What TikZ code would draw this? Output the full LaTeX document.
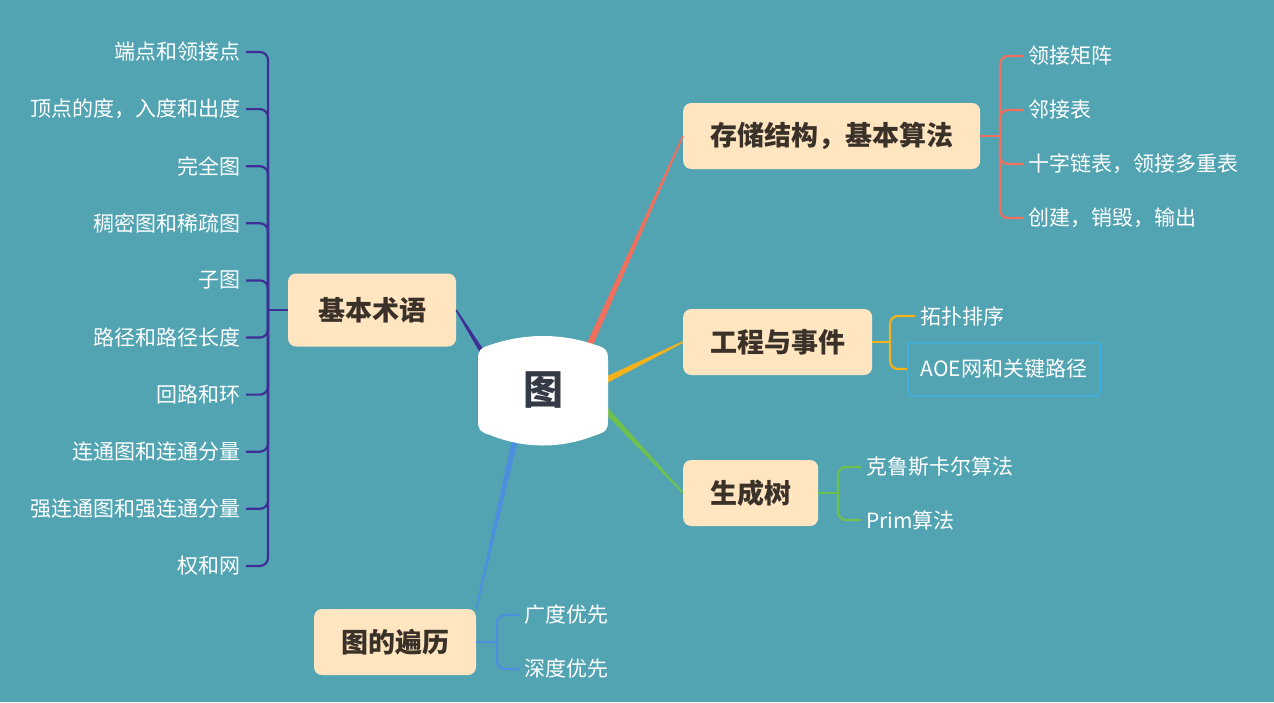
\documentclass[tikz,border=0pt]{standalone}
\usepackage{fontspec}
\setmainfont{Noto Sans CJK SC}
\usetikzlibrary{calc}
\definecolor{bgc}{RGB}{82,164,179}
\definecolor{boxc}{RGB}{255,229,192}
\definecolor{topicc}{RGB}{58,49,41}
\definecolor{rootc}{RGB}{52,58,70}
\definecolor{colB}{RGB}{62,46,150}
\definecolor{colS}{RGB}{240,112,93}
\definecolor{colP}{RGB}{245,178,27}
\definecolor{colT}{RGB}{109,193,76}
\definecolor{colR}{RGB}{75,143,222}
\definecolor{aoec}{RGB}{63,176,224}
\begin{document}
\begin{tikzpicture}[x=1pt,y=-1pt,
  topic/.style={fill=boxc,rounded corners=8pt,inner xsep=27pt,inner ysep=4pt,
    minimum height=66pt,text=topicc,font=\fontsize{27}{31}\selectfont\bfseries},
  leaf/.style={text=white,inner xsep=5pt,inner ysep=3pt,font=\fontsize{21}{25}\selectfont},
  brace/.style={line width=2.2pt,rounded corners=8pt}]
  \useasboundingbox (0,0) rectangle (1274,702);
  \fill[bgc] (0,0) rectangle (1274,702);

  % topics
  \node[topic,inner xsep=30pt,minimum height=73pt] (basic) at (372,310) {基本术语};
  \node[topic,anchor=west] (store) at (683,136) {存储结构，基本算法};
  \node[topic,anchor=west] (proj) at (683,342) {工程与事件};
  \node[topic,anchor=west] (tree) at (683,493) {生成树};
  \node[topic] (trav) at (395,642) {图的遍历};

  % hubs
  \coordinate (hubB) at (268,310);
  \coordinate (hubS) at (1000,136);
  \coordinate (hubP) at (890,342);
  \coordinate (hubT) at (838,493);
  \coordinate (hubR) at (497,642);

  % leaves
  \foreach \t [count=\i] in {端点和领接点,顶点的度，入度和出度,完全图,稠密图和稀疏图,子图,
      路径和路径长度,回路和环,连通图和连通分量,强连通图和强连通分量,权和网}
    \node[leaf,anchor=east] (b\i) at (246,{52+57.1*(\i-1)}) {\t};
  \foreach \t [count=\i] in {领接矩阵,邻接表,十字链表，领接多重表,创建，销毁，输出}
    \node[leaf,anchor=west] (s\i) at (1023,{56+54*(\i-1)}) {\t};
  \node[leaf,anchor=west] (p1) at (915,316) {拓扑排序};
  \node[leaf,anchor=west,draw=aoec,line width=1.5pt,rounded corners=3pt,
    inner xsep=13pt,minimum height=53pt] (p2) at (907,369) {AOE网和关键路径};
  \node[leaf,anchor=west] (t1) at (861,467) {克鲁斯卡尔算法};
  \node[leaf,anchor=west] (t2) at (861,520) {Prim算法};
  \node[leaf,anchor=west] (r1) at (519,615) {广度优先};
  \node[leaf,anchor=west] (r2) at (519,669) {深度优先};

  % braces
  \foreach \i in {1,...,10}
    \draw[brace,colB] (hubB) |- (b\i.east);
  \draw[brace,colB] (basic.west) -- (hubB);
  \foreach \i in {1,...,4}
    \draw[brace,colS] (hubS) |- (s\i.west);
  \draw[brace,colS] (store.east) -- (hubS);
  \foreach \i in {1,2} {
    \draw[brace,colP] (hubP) |- (p\i.west);
    \draw[brace,colT] (hubT) |- (t\i.west);
    \draw[brace,colR] (hubR) |- (r\i.west);
  }
  \draw[brace,colP] (proj.east) -- (hubP);
  \draw[brace,colT] (tree.east) -- (hubT);
  \draw[brace,colR] (trav.east) -- (hubR);

  % main branches
  \coordinate (gB) at (486,358);
  \coordinate (gS) at (590,344);
  \coordinate (gP) at (604,381);
  \coordinate (gT) at (604,408);
  \coordinate (gR) at (515,440);
  \foreach \s/\e/\c/\w in {gB/basic.east/colB/2.5,gS/store.west/colS/3.2,
      gP/proj.west/colP/3.2,gT/tree.west/colT/3,gR/trav.north east/colR/3}
    \fill[\c] ($(\s)!\w pt!90:(\e)$) -- ($(\e)!0.8pt!-90:(\s)$)
      -- ($(\e)!0.8pt!90:(\s)$) -- ($(\s)!\w pt!-90:(\e)$) -- cycle;

  % root
  \fill[white] (478,360) .. controls (478,350) and (480,348) .. (490,345)
    .. controls (525,333) and (561,333) .. (596,345)
    .. controls (606,348) and (608,350) .. (608,360) -- (608,420)
    .. controls (608,430) and (606,432) .. (596,435)
    .. controls (561,449) and (525,449) .. (490,435)
    .. controls (480,432) and (478,430) .. (478,420) -- cycle;
  \node[text=rootc,font=\fontsize{40}{44}\selectfont\bfseries] (root) at (543,390) {图};
\end{tikzpicture}
\end{document}
